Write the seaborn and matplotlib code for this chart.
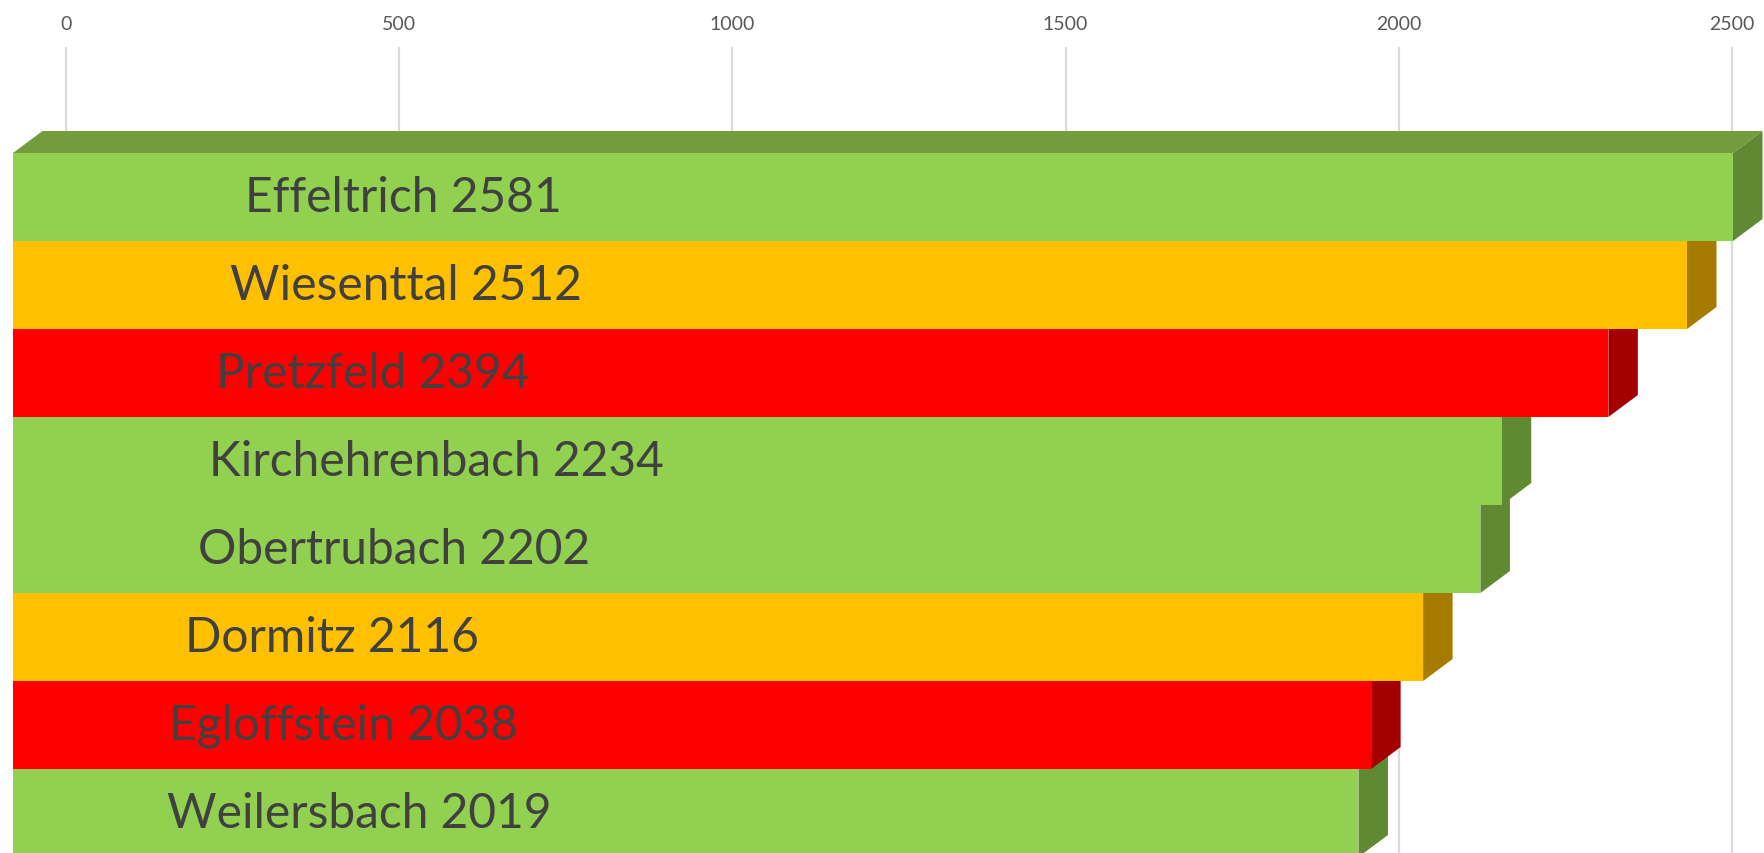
import matplotlib
matplotlib.use("Agg")
import matplotlib.pyplot as plt
import seaborn as sns

# Gemeinden, sorted by value
names = ["Effeltrich", "Wiesenttal", "Pretzfeld", "Kirchehrenbach",
         "Obertrubach", "Dormitz", "Egloffstein", "Weilersbach"]
values = [2581, 2512, 2394, 2234, 2202, 2116, 2038, 2019]
front_colors = ["#92d050", "#ffc000", "#ff0000", "#92d050",
                "#92d050", "#ffc000", "#ff0000", "#92d050"]
side_colors = ["#5f8933", "#a67c00", "#a50000", "#5f8933",
               "#5f8933", "#a67c00", "#a50000", "#5f8933"]
top_color = "#749c3d"
ticks = [0, 500, 1000, 1500, 2000, 2500]
# left edge of each data label, in value units of the bar front
label_x = [348, 326, 305, 294, 278, 258, 234, 231]

W, H = 1765, 854
PX = 0.6664          # pixels per unit
FRONT0 = 13          # pixel x of value 0 on bar fronts
BACK0 = 66           # pixel x of value 0 on the back wall
BAR_TOP = 154        # pixel y of first bar front top
BAR_H = 88           # pixel height of one bar
DEPTH_X, DEPTH_Y = 29.5, 22   # 3d depth offset in pixels
WALL_TOP = 48

sns.set_theme(style="white")
plt.rcParams["font.family"] = ["Lato", "DejaVu Sans"]

fig = plt.figure(figsize=(W / 100, H / 100), dpi=100)

# back wall with gridlines and tick labels on top
back = fig.add_axes([0, 0, 1, (H - WALL_TOP) / H])
back.set_xlim(-BACK0 / PX, (W - BACK0) / PX)
back.set_ylim(0, 1)
back.set_xticks(ticks)
back.set_xticklabels([str(t) for t in ticks], fontsize=14, color="#595959")
back.xaxis.tick_top()
back.tick_params(axis="x", length=0, pad=11)
back.set_yticks([])
back.grid(axis="x", color="#d9d9d9", linewidth=1.6)
for s in back.spines.values():
    s.set_visible(False)
back.set_facecolor("white")

# bar fronts
ax = fig.add_axes([0, 0, 1, 1])
ax.patch.set_alpha(0)
sns.barplot(x=values, y=names, hue=names, palette=front_colors, orient="h",
            width=1.0, linewidth=0, saturation=1, legend=False, ax=ax)
ax.set_xlim(-FRONT0 / PX, (W - FRONT0) / PX)
y_top = -0.5 - BAR_TOP / BAR_H
ax.set_ylim(y_top + H / BAR_H, y_top)
ax.axis("off")

dx = DEPTH_X / PX
dy = DEPTH_Y / BAR_H
n = len(values)
for i, (v, cont) in enumerate(zip(values, ax.containers)):
    z = 2 * (n - i)
    for p in cont.patches:
        p.set_zorder(z + 1)
    # side face
    ax.fill([v, v + dx, v + dx, v],
            [i - 0.5, i - 0.5 - dy, i + 0.5 - dy, i + 0.5],
            color=side_colors[i], linewidth=0, zorder=z)
    ax.text(label_x[i], i, f"{names[i]} {v}", fontsize=34.5, color="#404040",
            ha="left", va="center", zorder=50)

# top face of the first bar
ax.fill([0, dx, values[0] + dx, values[0]],
        [-0.5, -0.5 - dy, -0.5 - dy, -0.5],
        color=top_color, linewidth=0, zorder=2 * n + 2)

fig.savefig("out.png", dpi=100)
